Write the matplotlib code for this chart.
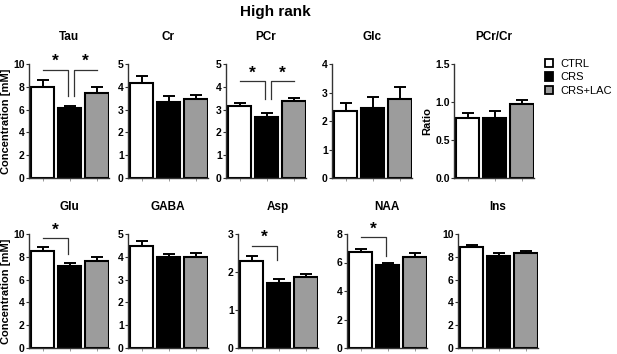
import matplotlib
matplotlib.use("Agg")
import matplotlib.pyplot as plt
from matplotlib.patches import Patch

plt.rcParams['font.family'] = ['Liberation Sans', 'DejaVu Sans']

groups = ['CTRL', 'CRS', 'CRS+LAC']
colors = ['white', 'black', '#9c9c9c']

top_names = ['Tau', 'Cr', 'PCr', 'Glc', 'PCr/Cr']
bottom_names = ['Glu', 'GABA', 'Asp', 'NAA', 'Ins']

means = {
    'Tau': [7.95, 6.10, 7.45],
    'Cr': [4.17, 3.35, 3.48],
    'PCr': [3.16, 2.68, 3.36],
    'Glc': [2.35, 2.44, 2.78],
    'PCr/Cr': [0.785, 0.79, 0.97],
    'Glu': [8.49, 7.20, 7.65],
    'GABA': [4.46, 3.98, 3.98],
    'Asp': [2.28, 1.70, 1.86],
    'NAA': [6.72, 5.79, 6.40],
    'Ins': [8.84, 8.05, 8.37],
}
sems = {
    'Tau': [0.65, 0.18, 0.50],
    'Cr': [0.32, 0.25, 0.17],
    'PCr': [0.14, 0.17, 0.13],
    'Glc': [0.29, 0.39, 0.40],
    'PCr/Cr': [0.075, 0.09, 0.06],
    'Glu': [0.38, 0.30, 0.34],
    'GABA': [0.22, 0.16, 0.19],
    'Asp': [0.15, 0.11, 0.10],
    'NAA': [0.21, 0.21, 0.30],
    'Ins': [0.23, 0.32, 0.18],
}
ymax = {'Tau': 10, 'Cr': 5, 'PCr': 5, 'Glc': 4, 'PCr/Cr': 1.5,
        'Glu': 10, 'GABA': 5, 'Asp': 3, 'NAA': 8, 'Ins': 10}
ystep = {'Tau': 2, 'Cr': 1, 'PCr': 1, 'Glc': 1, 'PCr/Cr': 0.5,
         'Glu': 2, 'GABA': 1, 'Asp': 1, 'NAA': 2, 'Ins': 2}
ylabels = {'Tau': 'Concentration [mM]', 'Glu': 'Concentration [mM]', 'PCr/Cr': 'Ratio'}

# significance: (panel, group_a, group_b, bracket height, drop-to height)
sig = [
    ('Tau', 0, 1, 9.5, 7.2),
    ('Tau', 1, 2, 9.5, 7.2),
    ('PCr', 0, 1, 4.25, 3.46),
    ('PCr', 1, 2, 4.25, 3.46),
    ('Glu', 0, 1, 9.65, 8.28),
    ('Asp', 0, 1, 2.69, 2.31),
    ('NAA', 0, 1, 7.79, 6.49),
]

W, H = 617, 354
fig = plt.figure(figsize=(W / 100, H / 100), dpi=100)

top_x = [29, 128, 226, 332, 454]
bot_x = [29, 128, 238, 347, 458]
ax_w = 80

def make_axes(name, x0, ybot, ytop):
    ax = fig.add_axes([x0 / W, 1 - ybot / H, ax_w / W, (ybot - ytop) / H])
    xs = list(range(len(groups)))
    m = means[name]
    e = sems[name]
    ax.bar(xs, m, width=0.87, color=colors, edgecolor='black', linewidth=1.5, zorder=2)
    ax.errorbar(xs, m, yerr=[[0] * 3, e], fmt='none', ecolor='black',
                elinewidth=1.4, capsize=4.2, capthick=1.4, zorder=1)
    ax.set_xlim(-0.5, 2.45)
    top = ymax[name]
    ax.set_ylim(0, top)
    st = ystep[name]
    n = int(round(top / st))
    ticks = [i * st for i in range(n + 1)]
    ax.set_yticks(ticks)
    if name == 'PCr/Cr':
        ax.set_yticklabels([f'{t:.1f}' for t in ticks])
    else:
        ax.set_yticklabels([f'{t:g}' for t in ticks])
    ax.set_xticks(xs)
    ax.set_xticklabels([])
    for s in ['top', 'right']:
        ax.spines[s].set_visible(False)
    for s in ['left', 'bottom']:
        ax.spines[s].set_linewidth(1.0)
        ax.spines[s].set_color('#333333')
    ax.tick_params(axis='y', length=2, width=0.8, pad=1, labelsize=7.5, colors='#333333')
    ax.tick_params(axis='x', length=2, width=0.6, colors='#888888')
    for lab in ax.get_yticklabels():
        lab.set_fontweight('bold')
        lab.set_color('black')
    ax.set_title(name, fontsize=8.5, fontweight='bold', pad=17)
    if name in ylabels:
        ax.set_ylabel(ylabels[name], fontsize=8, fontweight='bold', labelpad=2)
    return ax

axes = {}
for name, x0 in zip(top_names, top_x):
    axes[name] = make_axes(name, x0, 178, 64)
for name, x0 in zip(bottom_names, bot_x):
    axes[name] = make_axes(name, x0, 348, 234)

for name, a, b, yh, yd in sig:
    ax = axes[name]
    if b == 1:
        xl, xr = a, b - 0.05
        ax.plot([xl, xr, xr], [yh, yh, yd], color='#333333', lw=0.9, clip_on=False, zorder=3)
    else:
        xl, xr = a + 0.15, b
        ax.plot([xl, xl, xr], [yd, yh, yh], color='#333333', lw=0.9, clip_on=False, zorder=3)
    xm = (xl + xr) / 2
    ax.annotate('*', xy=(xm, yh), xytext=(0, 0.5), textcoords='offset points',
                ha='center', va='bottom', fontsize=12.5, fontweight='bold',
                annotation_clip=False)

fig.text(275 / W, 1 - 12 / H, 'High rank', ha='center', va='center',
         fontsize=11, fontweight='bold')

handles = [Patch(facecolor=c, edgecolor='black', linewidth=1.3) for c in colors]
fig.legend(handles, groups, loc='upper left', bbox_to_anchor=(545 / W, 1 - 59 / H),
           frameon=False, fontsize=8, handlelength=0.75, handleheight=0.75,
           handletextpad=0.6, labelspacing=0.3, borderpad=0, borderaxespad=0)

fig.savefig('out.png', dpi=100)
